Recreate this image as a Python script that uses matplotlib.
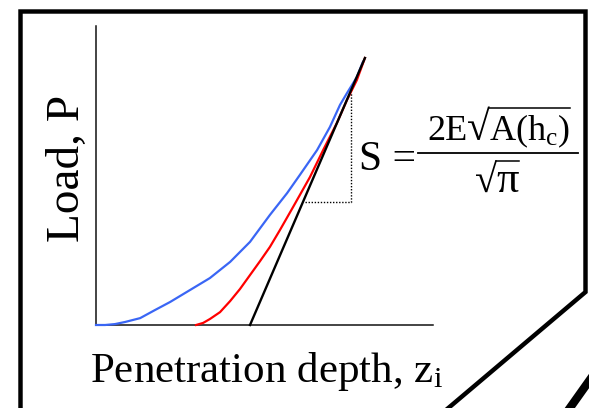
import matplotlib
matplotlib.use("Agg")
import matplotlib.pyplot as plt
from matplotlib.lines import Line2D
from matplotlib.textpath import TextPath
from matplotlib.font_manager import FontProperties

plt.rcParams['font.family'] = ['Liberation Serif', 'DejaVu Serif']
plt.rcParams['mathtext.fontset'] = 'custom'
plt.rcParams['mathtext.rm'] = 'Liberation Serif'
plt.rcParams['mathtext.it'] = 'Liberation Serif:italic'
plt.rcParams['mathtext.bf'] = 'Liberation Serif:bold'

# ---- data (arbitrary units, axes span 0..1) ----
loading_depth = [0.000, 0.027, 0.056, 0.086, 0.131, 0.175, 0.220, 0.279, 0.338, 0.398,
                 0.457, 0.516, 0.567, 0.605, 0.656, 0.694, 0.724, 0.745, 0.774, 0.792]
loading_load = [0.000, 0.000, 0.003, 0.010, 0.023, 0.050, 0.077, 0.117, 0.157, 0.211,
                0.278, 0.368, 0.441, 0.502, 0.585, 0.662, 0.736, 0.776, 0.829, 0.880]

unloading_depth = [0.297, 0.318, 0.338, 0.368, 0.398, 0.427, 0.457, 0.487, 0.516,
                   0.546, 0.585, 0.635, 0.674, 0.715, 0.745, 0.774, 0.798]
unloading_load = [0.000, 0.007, 0.020, 0.043, 0.080, 0.120, 0.167, 0.214, 0.261,
                  0.318, 0.395, 0.495, 0.585, 0.676, 0.753, 0.819, 0.893]

tangent_depth = [0.457, 0.798]
tangent_load = [0.000, 0.893]

slope_tri_depth = [0.620, 0.757, 0.757]
slope_tri_load = [0.411, 0.411, 0.776]

x_label = 'Penetration depth, z$_\\mathregular{i}$'
y_label = 'Load, P'

W, H = 589, 408
fig = plt.figure(figsize=(W / 100, H / 100), dpi=100)


def fx(px):
    return px / W


def fy(py):
    return (H - py) / H


ax = fig.add_axes([fx(96), fy(325), (433 - 96) / W, (325 - 26) / H])
ax.set_xlim(0, 1)
ax.set_ylim(0, 1)
for s in ['top', 'right']:
    ax.spines[s].set_visible(False)
for s in ['left', 'bottom']:
    ax.spines[s].set_linewidth(1.1)
    ax.spines[s].set_color('#111111')
ax.set_xticks([])
ax.set_yticks([])
ax.patch.set_alpha(0)

ax.plot(loading_depth, loading_load, color='#3a66f5', lw=1.6, clip_on=False, zorder=3)
ax.plot(unloading_depth, unloading_load, color='#ff0000', lw=1.6, clip_on=False, zorder=4)
ax.plot(tangent_depth, tangent_load, color='black', lw=1.7, clip_on=False, zorder=5)
ax.plot(slope_tri_depth, slope_tri_load, color='black', lw=1.0, ls=(0, (1, 1.2)),
        clip_on=False, zorder=2)

ax.set_xlabel(x_label, fontsize=31)
ax.xaxis.set_label_coords((266.5 - 96) / 337, (325 - 382) / 299)
ax.xaxis.label.set_va('baseline')

ax.set_ylabel(y_label, fontsize=34)
ax.yaxis.set_label_coords((79 - 96) / 337, (325 - 168.5) / 299)
ax.yaxis.label.set_va('baseline')
ax.yaxis.label.set_rotation_mode('anchor')

# ---- formula  S = 2E sqrt(A(h_c)) / sqrt(pi) ----
fp = FontProperties(family='Liberation Serif')
px_per_pt = 100 / 72

fig.text(fx(359), fy(170), 'S =', fontsize=30, va='baseline', ha='left')

renderer = fig.canvas.get_renderer()


def glyph_ext(s, fs):
    return TextPath((0, 0), s, size=fs * px_per_pt, prop=fp).get_extents()


def sqrt_group(x0, base, before, inside, fs_text, fs_rad, fs_inside):
    x = x0
    if before:
        t = fig.text(fx(x), fy(base), before, fontsize=fs_text, va='baseline', ha='left')
        x = t.get_window_extent(renderer).x1
    t = fig.text(fx(x), fy(base), '√', fontsize=fs_rad, va='baseline', ha='left')
    e = glyph_ext('√', fs_rad)
    bar_y = base - e.y1
    xr = x + e.x1 - 1
    t2 = fig.text(fx(xr), fy(base), inside, fontsize=fs_inside, va='baseline', ha='left')
    xe = t2.get_window_extent(renderer).x1
    fig.add_artist(Line2D([fx(x + e.x1 - 0.8), fx(xe)], [fy(bar_y + 0.6), fy(bar_y + 0.6)],
                          transform=fig.transFigure, color='black', lw=1.1))
    return xe


sqrt_group(427, 140, '2E', 'A(h$_\\mathregular{c}$)', 26, 30, 26)
sqrt_group(475, 192, '', 'π', 26, 29, 32)

# fraction bar
fig.add_artist(Line2D([fx(418), fx(578)], [fy(153), fy(153)],
                      transform=fig.transFigure, color='black', lw=1.3))

# ---- frame ----
frame_x = [20.5, 20.5, 585.5, 585.5, 446]
frame_y = [412, 11.5, 11.5, 292, 410]
fig.add_artist(Line2D([fx(v) for v in frame_x], [fy(v) for v in frame_y],
                      transform=fig.transFigure, color='black', lw=3.2,
                      solid_joinstyle='miter'))
fig.add_artist(Line2D([fx(567), fx(594)], [fy(412), fy(374)],
                      transform=fig.transFigure, color='black', lw=6))

fig.savefig('out.png', dpi=100)
